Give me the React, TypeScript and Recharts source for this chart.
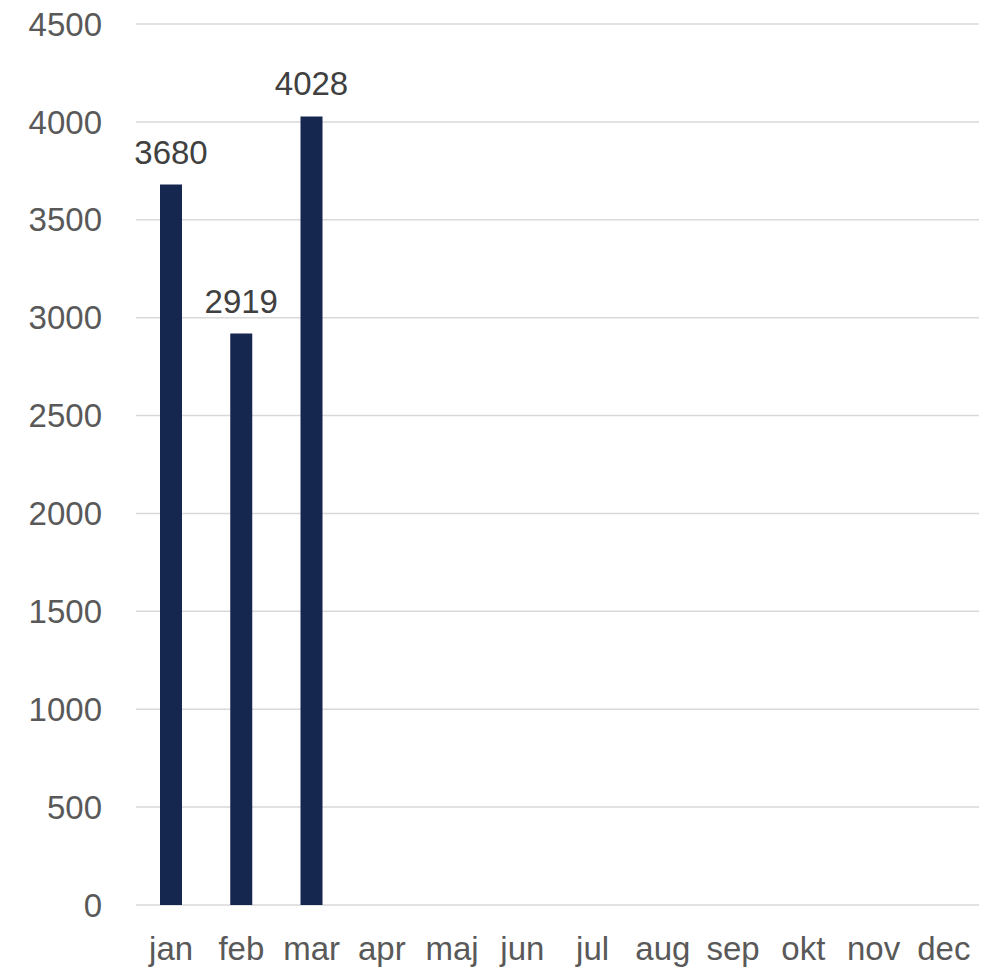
import { BarChart, Bar, XAxis, YAxis, CartesianGrid, LabelList } from "recharts";

const months = ["jan", "feb", "mar", "apr", "maj", "jun", "jul", "aug", "sep", "okt", "nov", "dec"];
const values: (number | null)[] = [3680, 2919, 4028, null, null, null, null, null, null, null, null, null];
const yTicks = [0, 500, 1000, 1500, 2000, 2500, 3000, 3500, 4000, 4500];

const data = months.map((m, i) => ({ name: m, value: values[i] }));

const font = "'Liberation Sans', Arial, sans-serif";

export default function App() {
  return (
    <div style={{ position: "absolute", left: 0, top: 0, width: 1000, height: 970, background: "#fff" }}>
      <BarChart
        width={1000}
        height={970}
        data={data}
        margin={{ top: 24, right: 21, bottom: 0, left: 0 }}
        barCategoryGap={0}
      >
        <CartesianGrid vertical={false} stroke="#d9d9d9" strokeWidth={1.5} />
        <XAxis
          dataKey="name"
          height={65}
          axisLine={false}
          tickLine={false}
          tickMargin={26}
          interval={0}
          tick={{ fill: "#595959", fontSize: 33, fontFamily: font }}
        />
        <YAxis
          width={136}
          domain={[0, 4500]}
          ticks={yTicks}
          axisLine={false}
          tickLine={false}
          tickMargin={28}
          tick={{ fill: "#595959", fontSize: 33, fontFamily: font }}
        />
        <Bar dataKey="value" fill="#15274e" barSize={22} isAnimationActive={false}>
          <LabelList
            dataKey="value"
            position="top"
            offset={21}
            fill="#404040"
            fontSize={33}
            fontFamily={font}
            formatter={(v: any) => (v == null ? "" : v)}
          />
        </Bar>
      </BarChart>
    </div>
  );
}
